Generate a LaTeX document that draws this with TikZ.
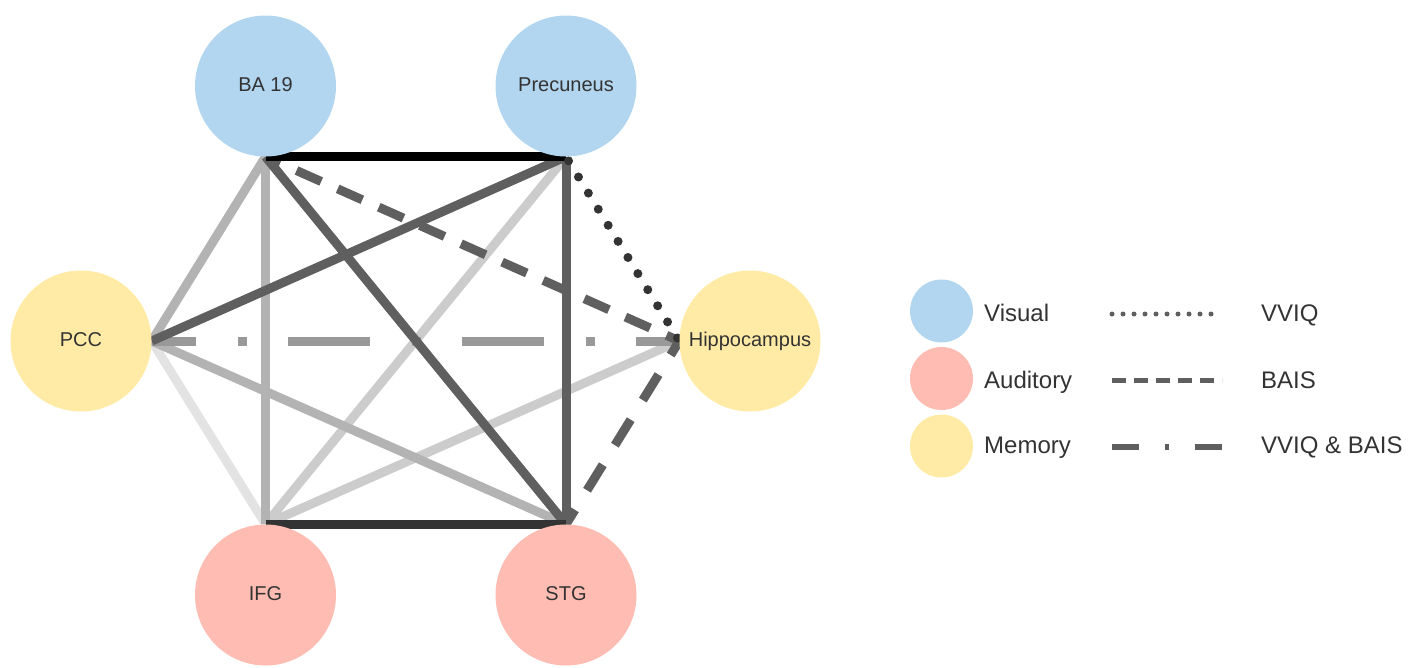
\documentclass[tikz,border=0pt]{standalone}
\usepackage{fontspec}
\setmainfont{Liberation Sans}
\usetikzlibrary{backgrounds}
\definecolor{visc}{HTML}{B2D6EF}
\definecolor{audc}{HTML}{FFBCB3}
\definecolor{memc}{HTML}{FFEBA6}
\definecolor{txtc}{HTML}{333333}
\definecolor{gE0}{HTML}{E3E3E3}
\definecolor{gCC}{HTML}{CCCCCC}
\definecolor{gB3}{HTML}{B3B3B3}
\definecolor{g99}{HTML}{999999}
\definecolor{g5F}{HTML}{5F5F5F}
\definecolor{g33}{HTML}{333333}
\begin{document}
\begin{tikzpicture}[x=1pt,y=-1pt,
  region/.style={circle, draw=none, minimum size=141pt, inner sep=0pt,
    text=txtc, font=\fontsize{20}{24}\selectfont, text height=14.3pt, text depth=4pt},
  keydot/.style={circle, draw=none, minimum size=63pt, inner sep=0pt},
  keytext/.style={anchor=base west, inner sep=0pt, text=txtc, font=\fontsize{24}{28}\selectfont},
  link/.style={line width=9pt, line cap=butt},
  baisline/.style={dash pattern=on 27pt off 18pt},
  vviqline/.style={line cap=round, dash pattern=on 0pt off 18.9pt},
  bothline/.style={dash pattern=on 82pt off 42pt on 8.5pt off 41.5pt},
  keyline/.style={line width=5.5pt, g5F}
]
\useasboundingbox (0,0) rectangle (1413,667);

% regions
\node[region, fill=visc] (ba19) at (265.5,86) {BA 19};
\node[region, fill=visc] (prec) at (566,86) {Precuneus};
\node[region, fill=memc] (pcc) at (81,341) {PCC};
\node[region, fill=memc] (hip) at (750,341) {Hippocampus};
\node[region, fill=audc] (ifg) at (265.5,595) {IFG};
\node[region, fill=audc] (stg) at (566,595) {STG};

\begin{scope}[on background layer]
  \draw[link, gE0] (pcc.east) -- (ifg.north);
  \draw[link, gCC] (prec.south) -- (ifg.north);
  \draw[link, gCC] (ifg.north) -- (hip.west);
  \draw[link, gB3] (ba19.south) -- (pcc.east);
  \draw[link, gB3] (ba19.south) -- (ifg.north);
  \draw[link, gB3] (pcc.east) -- (stg.north);
  \draw[link, g99, bothline, dash phase=37.5pt] (pcc.east) -- (hip.west);
  \draw[link, g5F] (prec.south) -- (pcc.east);
  \draw[link, g5F] (ba19.south) -- (stg.north);
  \draw[link, g5F] (prec.south) -- (stg.north);
  \draw[link, g5F, baisline, dash phase=11pt] (ba19.south) -- (hip.west);
  \draw[link, g5F, dash pattern=on 30pt off 23pt, dash phase=13pt] (stg.north) -- (hip.west);
  \draw[link, g33] (ifg.north) -- (stg.north);
  \draw[link, black] (ba19.south) -- (prec.south);
  \draw[link, g33, vviqline, dash phase=14pt] (prec.south) -- (hip.west);
\end{scope}

% legend
\node[keydot, fill=visc] (kvis) at (941.5,311) {};
\node[keydot, fill=audc] (kaud) at (941.5,378.5) {};
\node[keydot, fill=memc] (kmem) at (941.5,446) {};
\node[keytext] (tvis) at (984,321.7) {Visual};
\node[keytext] (taud) at (984,388) {Auditory};
\node[keytext] (tmem) at (984,453) {Memory};

\coordinate (d1a) at (1112,314);   \coordinate (d1b) at (1222,314);
\coordinate (d2a) at (1112,380.5); \coordinate (d2b) at (1222,380.5);
\coordinate (d3a) at (1112,446.5); \coordinate (d3b) at (1222,446.5);
\draw[keyline, line width=5pt, line cap=round, dash pattern=on 0pt off 11pt] (d1a) -- (d1b);
\draw[keyline, dash pattern=on 13.5pt off 8.5pt] (d2a) -- (d2b);
\draw[keyline, line width=6pt, dash pattern=on 27pt off 25.5pt on 4.5pt off 25.5pt] (d3a) -- (d3b);

\node[keytext] (tvviq) at (1261,321.7) {VVIQ};
\node[keytext] (tbais) at (1261,388) {BAIS};
\node[keytext] (tboth) at (1261,453) {VVIQ \& BAIS};
\end{tikzpicture}
\end{document}
